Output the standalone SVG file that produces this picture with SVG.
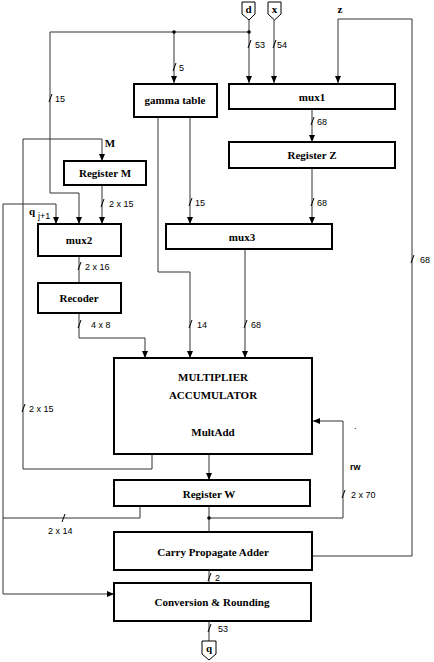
<svg xmlns="http://www.w3.org/2000/svg" width="434" height="662" viewBox="0 0 434 662">
<defs>
<marker id="ar" markerWidth="8" markerHeight="8" refX="7" refY="4" orient="auto" markerUnits="userSpaceOnUse">
<path d="M0,1 L7,4 L0,7 Z" fill="#000"/>
</marker>
<style>
.box{fill:#fff;stroke:#000;stroke-width:2}
.port{fill:#fff;stroke:#000;stroke-width:1}
.w{fill:none;stroke:#333;stroke-width:1}
.a{marker-end:url(#ar)}
.t{font-family:"Liberation Serif",serif;font-weight:bold;font-size:11px;text-anchor:middle;fill:#000}
.l{font-family:"Liberation Sans",sans-serif;font-size:9px;fill:#000}
.s{stroke:#000;stroke-width:1}
</style>
</defs>
<rect width="434" height="662" fill="#fff"/>
<g id="connectors">
<path class="w a" d="M249,20 V83"/>
<path class="w a" d="M274,20 V83"/>
<path class="w a" d="M249,32 H50 V193 H79 V224"/>
<path class="w a" d="M174,32 V83"/>
<path class="w a" d="M312,556 H412 V19 H338 V83"/>
<path class="w a" d="M312,109 V142"/>
<path class="w a" d="M312,168 V224"/>
<path class="w a" d="M190,117 V224"/>
<path class="w a" d="M158,117 V272 H190 V358"/>
<path class="w a" d="M245,249 V358"/>
<path class="w a" d="M102,185 V224"/>
<path class="w a" d="M152,454 V469 H23 V139 H102 V161"/>
<path class="w" d="M79,256 V283"/>
<path class="w a" d="M79,313 V338 H145 V358"/>
<path class="w a" d="M209,454 V480"/>
<path class="w" d="M209,506 V532"/>
<path class="w a" d="M209,518 H343 V421 H313"/>
<path class="w" d="M140,506 V518 H3"/>
<path class="w a" d="M3,204 H56 V224"/>
<path class="w a" d="M3,204 V594 H114"/>
<path class="w" d="M209,570 V583"/>
<path class="w" d="M209,621 V641"/>
<circle cx="249" cy="32" r="1.8" fill="#000"/>
<circle cx="174" cy="32" r="1.8" fill="#000"/>
<circle cx="209" cy="518" r="1.8" fill="#000"/>
<g class="s">
<line x1="248" y1="48" x2="251" y2="40"/>
<line x1="273" y1="48" x2="276" y2="40"/>
<line x1="173" y1="71" x2="176" y2="63"/>
<line x1="49" y1="102" x2="52" y2="94"/>
<line x1="311" y1="125" x2="314" y2="117"/>
<line x1="311" y1="206" x2="314" y2="198"/>
<line x1="189" y1="206" x2="192" y2="198"/>
<line x1="101" y1="207" x2="104" y2="199"/>
<line x1="78" y1="270" x2="81" y2="262"/>
<line x1="78" y1="328" x2="81" y2="320"/>
<line x1="189" y1="328" x2="192" y2="320"/>
<line x1="244" y1="328" x2="247" y2="320"/>
<line x1="411" y1="263" x2="414" y2="255"/>
<line x1="22" y1="412" x2="25" y2="404"/>
<line x1="342" y1="498" x2="345" y2="490"/>
<line x1="62" y1="522" x2="65" y2="514"/>
<line x1="208" y1="581" x2="211" y2="573"/>
<line x1="208" y1="632" x2="211" y2="624"/>
</g>
<text class="l" x="255" y="48">53</text>
<text class="l" x="277" y="48">54</text>
<text class="l" x="179" y="71">5</text>
<text class="l" x="55" y="102">15</text>
<text class="l" x="317" y="125">68</text>
<text class="l" x="317" y="206">68</text>
<text class="l" x="195" y="206">15</text>
<text class="l" x="109" y="207">2 x 15</text>
<text class="l" x="85" y="270">2 x 16</text>
<text class="l" x="91" y="328">4 x 8</text>
<text class="l" x="197" y="328">14</text>
<text class="l" x="251" y="328">68</text>
<text class="l" x="420" y="263">68</text>
<text class="l" x="29" y="412">2 x 15</text>
<text class="l" x="351" y="498">2 x 70</text>
<text class="l" x="48" y="534">2 x 14</text>
<text class="l" x="215" y="581">2</text>
<text class="l" x="218" y="632">53</text>
<text class="l" x="350" y="470" font-weight="bold">rw</text>
<text class="l" x="354" y="429">.</text>
<text class="t" x="340" y="13" font-size="10">z</text>
<text class="t" x="110" y="147">M</text>
<text class="t" x="32" y="215" font-size="12">q</text>
<text class="l" x="38" y="219" font-size="8">j+1</text>
</g>
<g id="d"><path class="port" d="M242,2 H255 V14 L249,20 L242,14 Z"/><text class="t" x="248.5" y="13" font-size="10">d</text></g>
<g id="x"><path class="port" d="M268,2 H281 V14 L274.5,20 L268,14 Z"/><text class="t" x="274.5" y="13" font-size="10">x</text></g>
<g id="q"><path class="port" d="M202,641 H216 V654 L209,660 L202,654 Z"/><text class="t" x="209" y="652" font-size="10">q</text></g>
<g id="gamma"><rect class="box" x="134" y="84" width="83" height="33"/><text class="t" x="175" y="104">gamma table</text></g>
<g id="mux1"><rect class="box" x="229" y="84" width="166" height="25"/><text class="t" x="312" y="101">mux1</text></g>
<g id="regZ"><rect class="box" x="229" y="142" width="166" height="26"/><text class="t" x="312" y="159">Register Z</text></g>
<g id="mux3"><rect class="box" x="166" y="224" width="166" height="25"/><text class="t" x="242" y="241">mux3</text></g>
<g id="regM"><rect class="box" x="64" y="161" width="82" height="24"/><text class="t" x="105" y="177">Register M</text></g>
<g id="mux2"><rect class="box" x="38" y="224" width="83" height="32"/><text class="t" x="79" y="244">mux2</text></g>
<g id="recoder"><rect class="box" x="38" y="283" width="83" height="30"/><text class="t" x="79" y="302">Recoder</text></g>
<g id="mac"><rect class="box" x="114" y="358" width="198" height="96"/><text class="t" x="213" y="381">MULTIPLIER</text><text class="t" x="213" y="399">ACCUMULATOR</text><text class="t" x="213" y="436">MultAdd</text></g>
<g id="regW"><rect class="box" x="114" y="480" width="196" height="26"/><text class="t" x="209" y="498">Register  W</text></g>
<g id="cpa"><rect class="box" x="114" y="532" width="198" height="38"/><text class="t" x="213" y="556">Carry Propagate Adder</text></g>
<g id="conv"><rect class="box" x="114" y="583" width="197" height="38"/><text class="t" x="212" y="606">Conversion &amp; Rounding</text></g>
</svg>
